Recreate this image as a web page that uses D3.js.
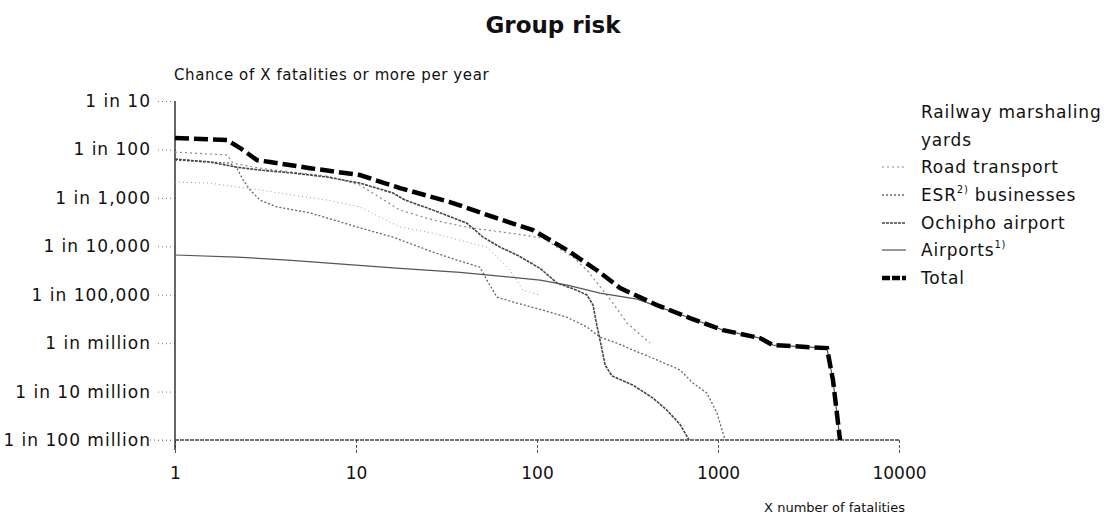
<!DOCTYPE html>
<html>
<head>
<meta charset="utf-8">
<script src="https://cdn.jsdelivr.net/npm/d3@7/dist/d3.min.js"></script>
<style>
  body { margin: 0; background: #fff; }
  text { font-family: "DejaVu Sans", sans-serif; fill: #111; }
</style>
</head>
<body>
<svg id="chart"></svg>
<script>
// ticks
const yTicks = [1e-1, 1e-2, 1e-3, 1e-4, 1e-5, 1e-6, 1e-7, 1e-8]
const yTickLabels = ["1 in 10", "1 in 100", "1 in 1,000", "1 in 10,000", "1 in 100,000",
    "1 in million", "1 in 10 million", "1 in 100 million"]
const xTicks = [1, 10, 100, 1000, 10000]
const xTickLabels = ["1", "10", "100", "1000", "10000"]

// [fatalities, chance per year]
const railwayYards = [[1, 2.12e-3], [1.56, 2.02e-3], [2.2, 1.67e-3], [2.95, 1.45e-3], [4.49, 1.14e-3],
    [6.92, 9.0e-4], [10.5, 6.5e-4], [17.5, 2.5e-4], [26.6, 1.87e-4], [41, 1.22e-4], [52.9, 9.6e-5],
    [71, 3.2e-5], [83.7, 1.24e-5], [104, 9.8e-6]]
const roadTransport = [[1, 8.8e-3], [1.94, 7.7e-3], [2.09, 5.2e-3], [2.95, 4.1e-3], [4.49, 3.4e-3],
    [6.92, 2.82e-3], [10.5, 1.84e-3], [17.5, 5.6e-4], [26.6, 3.5e-4], [42.7, 2.4e-4], [71, 1.87e-4],
    [108, 1.48e-4], [129, 9.6e-5], [158, 6.0e-5], [189, 3.2e-5], [263, 6.7e-6], [314, 2.6e-6], [421, 1.0e-6]]
const esrBusinesses = [[1, 6.0e-3], [2.01, 5.2e-3], [2.2, 4.1e-3], [2.38, 2.33e-3], [2.6, 1.45e-3],
    [2.95, 9.0e-4], [3.66, 6.5e-4], [5.57, 4.9e-4], [8.16, 3.2e-4], [10.5, 2.4e-4], [16, 1.55e-4],
    [26.6, 7.6e-5], [36.1, 5.2e-5], [48.4, 3.7e-5], [52.9, 2.0e-5], [60.1, 8.9e-6], [77.6, 6.7e-6],
    [108, 4.8e-6], [147, 3.4e-6], [189, 2.14e-6], [223, 1.33e-6], [277, 1.0e-6], [339, 7.2e-7],
    [460, 4.5e-7], [617, 2.8e-7], [728, 1.49e-7], [869, 9.3e-8], [987, 3.6e-8], [1094, 1e-8]]
const ochiphoAirport = [[1, 6.3e-3], [1.56, 5.5e-3], [2.2, 4.3e-3], [2.95, 3.75e-3], [4.49, 3.25e-3],
    [6.92, 2.69e-3], [10.5, 2.02e-3], [16, 1.26e-3], [18.7, 9.0e-4], [26.6, 5.6e-4], [41, 3.0e-4],
    [50.3, 1.55e-4], [62.5, 9.6e-5], [77.6, 6.6e-5], [104, 3.5e-5], [129, 1.74e-5], [166, 1.24e-5],
    [189, 9.8e-6], [204, 6.1e-6], [214, 2.35e-6], [226, 9.1e-7], [238, 3.5e-7], [260, 2.1e-7],
    [339, 1.36e-7], [438, 7.3e-8], [523, 4.1e-8], [617, 2.1e-8], [692, 1e-8]]
const airports = [[1, 6.6e-5], [2.2, 6.0e-5], [4.21, 5.2e-5], [17.5, 3.5e-5], [37.6, 2.9e-5],
    [71, 2.3e-5], [104, 2.0e-5], [147, 1.58e-5], [223, 1.08e-5], [357, 8.1e-6], [460, 5.8e-6],
    [700, 3.3e-6], [1066, 1.86e-6], [1708, 1.27e-6], [2014, 9.1e-7], [4000, 7.9e-7], [4318, 1.72e-7],
    [4723, 1e-8]]
const total = [[1, 1.72e-2], [1.94, 1.56e-2], [2.29, 1.07e-2], [2.84, 6.0e-3], [3.35, 5.5e-3],
    [5.57, 4.1e-3], [10.5, 2.96e-3], [17.5, 1.59e-3], [33, 8.2e-4], [60, 3.8e-4], [95, 2.16e-4],
    [147, 8.3e-5], [214, 3.2e-5], [288, 1.37e-5], [460, 6.1e-6], [700, 3.3e-6], [1066, 1.86e-6],
    [1708, 1.27e-6], [2014, 9.1e-7], [4000, 7.9e-7], [4318, 1.72e-7], [4723, 1e-8]]

const series = [
    {name: "Railway marshaling", name2: "yards", data: railwayYards, color: "#999", width: 1, dash: "1,3", legend: false},
    {name: "Road transport", data: roadTransport, color: "#888", width: 1.2, dash: "2,3", legend: true},
    {name: "ESR", sup: "2)", rest: " businesses", data: esrBusinesses, color: "#666", width: 1.3, dash: "2,2", legend: true},
    {name: "Ochipho airport", data: ochiphoAirport, color: "#444", width: 1.6, dash: "3,1", legend: true},
    {name: "Airports", sup: "1)", data: airports, color: "#555", width: 1.2, dash: null, legend: true},
    {name: "Total", data: total, color: "#000", width: 4.5, dash: "14,5", legend: true}
]

const width = 1104, height = 523

let svg = d3.select("#chart").attr("width", width).attr("height", height)

let scale_x = d3.scaleLog().domain([1, 10000]).range([175, 899])
let scale_y = d3.scaleLog().domain([1e-1, 1e-8]).range([101, 440])

// title
svg.append("text")
    .attr("x", 553).attr("y", 33)
    .attr("text-anchor", "middle")
    .style("font-size", "23px").style("font-weight", "bold")
    .text("Group risk")

svg.append("text")
    .attr("x", 174).attr("y", 80)
    .style("font-size", "15px").style("letter-spacing", "0.6px")
    .text("Chance of X fatalities or more per year")

svg.append("text")
    .attr("x", 905).attr("y", 512)
    .attr("text-anchor", "end")
    .style("font-size", "13px")
    .text("X number of fatalities")

// y axis
let yAxis = svg.append("g")
    .attr("transform", "translate(" + scale_x(1) + ",0)")
    .call(d3.axisLeft(scale_y).tickValues(yTicks)
        .tickFormat((d, i) => yTickLabels[i]).tickSizeInner(18).tickSizeOuter(0).tickPadding(6))
yAxis.select(".domain").remove()
yAxis.selectAll(".tick line").attr("stroke", "#777").attr("stroke-dasharray", "1,3")
yAxis.selectAll(".tick text").style("font-size", "17px").style("letter-spacing", "1px")
    .style("font-family", "DejaVu Sans").attr("fill", "#111")

// x axis
let xAxis = svg.append("g")
    .attr("transform", "translate(0," + scale_y(1e-8) + ")")
    .call(d3.axisBottom(scale_x).tickValues(xTicks)
        .tickFormat((d, i) => xTickLabels[i]).tickSizeInner(15).tickSizeOuter(0).tickPadding(12))
xAxis.select(".domain").remove()
xAxis.selectAll(".tick line").attr("stroke", "#555").attr("stroke-dasharray", "3,2")
xAxis.selectAll(".tick text").style("font-size", "17px").style("font-family", "DejaVu Sans").attr("fill", "#111")

// axis lines
svg.append("line")
    .attr("x1", scale_x(1)).attr("x2", scale_x(1))
    .attr("y1", scale_y(1e-1)).attr("y2", scale_y(1e-8) + 10)
    .attr("stroke", "#333").attr("stroke-width", 1.5)
svg.append("line")
    .attr("x1", scale_x(1) - 25).attr("x2", scale_x(1))
    .attr("y1", scale_y(1e-8)).attr("y2", scale_y(1e-8))
    .attr("stroke", "#777").attr("stroke-dasharray", "1,3")
svg.append("line")
    .attr("x1", scale_x(1)).attr("x2", scale_x(10000))
    .attr("y1", scale_y(1e-8)).attr("y2", scale_y(1e-8))
    .attr("stroke", "#444").attr("stroke-width", 1.5).attr("stroke-dasharray", "4,1")

// curves
let linePath = d3.line()
    .x(d => scale_x(d[0]))
    .y(d => scale_y(d[1]))

series.forEach(s => {
    svg.append("path")
        .attr("fill", "none")
        .attr("stroke", s.color)
        .attr("stroke-width", s.width)
        .attr("stroke-dasharray", s.dash)
        .attr("d", linePath(s.data))
})

// legend
let legendRows = [112, 167, 195, 223, 250, 278]
let legend = svg.append("g")
series.forEach((s, i) => {
    let y = legendRows[i]
    if (s.legend) {
        legend.append("line")
            .attr("x1", 882).attr("x2", 906)
            .attr("y1", y).attr("y2", y)
            .attr("stroke", s.color)
            .attr("stroke-width", s.width)
            .attr("stroke-dasharray", s.dash ? (s.width > 3 ? "8,2" : s.dash) : null)
    }
    let t = legend.append("text")
        .attr("x", 921).attr("y", y + 6)
        .style("font-size", "17px").style("letter-spacing", "0.8px")
    t.append("tspan").text(s.name)
    if (s.sup) {
        t.append("tspan").attr("dy", -8).style("font-size", "10px").text(s.sup)
        if (s.rest) t.append("tspan").attr("dy", 8).text(s.rest)
    }
    if (s.name2) {
        legend.append("text")
            .attr("x", 921).attr("y", y + 34)
            .style("font-size", "17px").style("letter-spacing", "0.8px")
            .text(s.name2)
    }
})
</script>
</body>
</html>
